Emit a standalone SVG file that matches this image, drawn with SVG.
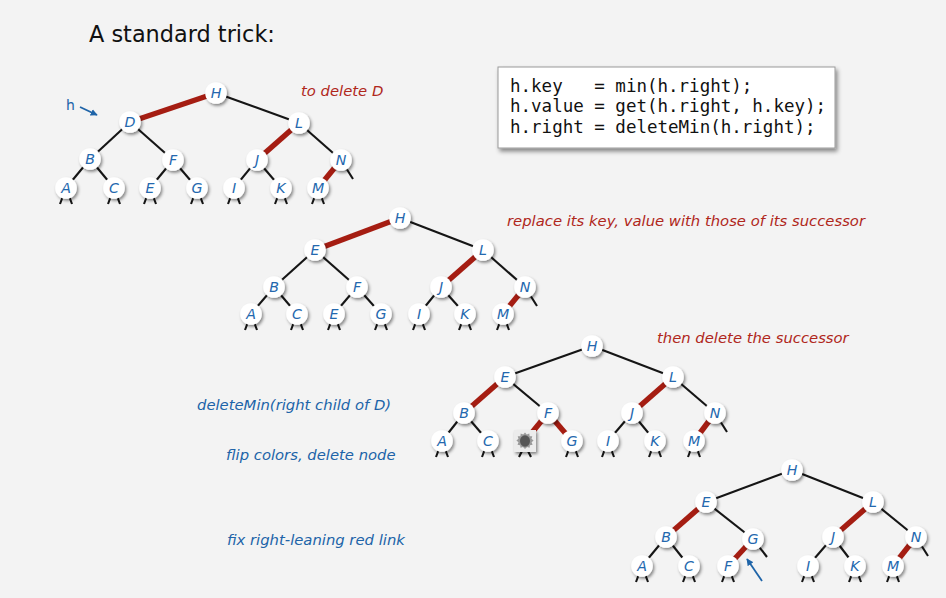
<svg xmlns="http://www.w3.org/2000/svg" width="946" height="598" viewBox="0 0 946 598">
<defs>
<style>
.bg{fill:#f3f3f3}
.node circle{fill:#fff;filter:url(#sh)}
.node text{font-family:"DejaVu Sans",sans-serif;font-style:italic;font-size:14.2px;fill:#2468ae;text-anchor:middle}
.e{stroke:#151515;stroke-width:2.1;fill:none}
.r{stroke:#a51d12;stroke-width:5.5;fill:none}
.red{font-family:"DejaVu Sans",sans-serif;font-style:italic;font-size:14.8px;fill:#b0271b}
.blue{font-family:"DejaVu Sans",sans-serif;font-style:italic;font-size:14.8px;fill:#2063a8}
.code{font-family:"DejaVu Sans Mono",monospace;font-size:17.5px;fill:#111}
.arr{stroke:#1f64a8;stroke-width:1.8;fill:none;marker-end:url(#ah)}
</style>
<filter id="sh" x="-50%" y="-50%" width="200%" height="200%">
<feDropShadow dx="1.5" dy="2" stdDeviation="1.6" flood-color="#000" flood-opacity="0.45"/>
</filter>
<filter id="bsh" x="-10%" y="-10%" width="120%" height="130%">
<feDropShadow dx="2" dy="3" stdDeviation="2" flood-color="#000" flood-opacity="0.45"/>
</filter>
<filter id="soft" x="-20%" y="-20%" width="140%" height="140%">
<feGaussianBlur stdDeviation="0.5"/>
</filter>
<marker id="ah" viewBox="0 0 10 10" refX="9" refY="5" markerWidth="7" markerHeight="7" orient="auto" markerUnits="userSpaceOnUse">
<path d="M0,0 L10,5 L0,10 z" fill="#1f64a8"/>
</marker>
</defs>
<rect class="bg" x="0" y="0" width="946" height="598"/>

<text x="89" y="42" font-family="DejaVu Sans, sans-serif" font-size="22.4" fill="#111">A standard trick:</text>

<g id="codebox">
<rect x="498" y="67" width="337" height="81" fill="#fff" stroke="#9a9a9a" stroke-width="1" filter="url(#bsh)"/>
<text class="code" x="510" y="91.5" xml:space="preserve">h.key   = min(h.right);</text>
<text class="code" x="510" y="112" xml:space="preserve">h.value = get(h.right, h.key);</text>
<text class="code" x="510" y="132.5" xml:space="preserve">h.right = deleteMin(h.right);</text>
</g>

<g id="labels">
<text class="red" x="301" y="96">to delete D</text>
<text class="red" x="507" y="226">replace its key, value with those of its successor</text>
<text class="red" x="657" y="343">then delete the successor</text>
<text class="blue" x="197" y="410">deleteMin(right child of D)</text>
<text class="blue" x="226" y="460">flip colors, delete node</text>
<text class="blue" x="227" y="545">fix right-leaning red link</text>
<text x="66" y="110" font-family="DejaVu Sans, sans-serif" font-size="14" fill="#2063a8">h</text>
</g>

<g id="connectors">
<!-- tree 1 -->
<line class="r" x1="216" y1="93" x2="130" y2="122"/>
<line class="e" x1="216" y1="93" x2="299" y2="123"/>
<line class="e" x1="130" y1="122" x2="90" y2="159"/>
<line class="e" x1="130" y1="122" x2="173" y2="160"/>
<line class="r" x1="299" y1="123" x2="257" y2="160"/>
<line class="e" x1="299" y1="123" x2="341" y2="160"/>
<line class="e" x1="90" y1="159" x2="66" y2="188"/>
<line class="e" x1="90" y1="159" x2="114" y2="188"/>
<line class="e" x1="173" y1="160" x2="150" y2="188"/>
<line class="e" x1="173" y1="160" x2="197" y2="188"/>
<line class="e" x1="257" y1="160" x2="234" y2="188"/>
<line class="e" x1="257" y1="160" x2="281" y2="188"/>
<line class="r" x1="341" y1="160" x2="318" y2="188"/>
<line class="e" x1="341" y1="160" x2="353" y2="179"/>
<path class="e" d="M63,196 L60,204 M69,196 L72,204 M111,196 L108,204 M117,196 L120,204 M147,196 L144,204 M153,196 L156,204 M194,196 L191,204 M200,196 L203,204 M231,196 L228,204 M237,196 L240,204 M278,196 L275,204 M284,196 L287,204 M315,196 L312,204 M321,196 L324,204"/>
<path class="arr" d="M80,107 L97,115"/>
<!-- tree 2 -->
<line class="r" x1="400" y1="218" x2="315" y2="250"/>
<line class="e" x1="400" y1="218" x2="483" y2="250"/>
<line class="e" x1="315" y1="250" x2="274" y2="287"/>
<line class="e" x1="315" y1="250" x2="357" y2="287"/>
<line class="r" x1="483" y1="250" x2="441" y2="287"/>
<line class="e" x1="483" y1="250" x2="525" y2="287"/>
<line class="e" x1="274" y1="287" x2="251" y2="314"/>
<line class="e" x1="274" y1="287" x2="297" y2="314"/>
<line class="e" x1="357" y1="287" x2="334" y2="314"/>
<line class="e" x1="357" y1="287" x2="381" y2="314"/>
<line class="e" x1="441" y1="287" x2="419" y2="314"/>
<line class="e" x1="441" y1="287" x2="465" y2="314"/>
<line class="r" x1="525" y1="287" x2="503" y2="314"/>
<line class="e" x1="525" y1="287" x2="537" y2="306"/>
<path class="e" d="M248,322 L245,330 M254,322 L257,330 M294,322 L291,330 M300,322 L303,330 M331,322 L328,330 M337,322 L340,330 M378,322 L375,330 M384,322 L387,330 M416,322 L413,330 M422,322 L425,330 M462,322 L459,330 M468,322 L471,330 M500,322 L497,330 M506,322 L509,330"/>
<!-- tree 3 -->
<line class="e" x1="592" y1="346" x2="505" y2="377"/>
<line class="e" x1="592" y1="346" x2="673" y2="377"/>
<line class="r" x1="505" y1="377" x2="464" y2="413"/>
<line class="e" x1="505" y1="377" x2="548" y2="413"/>
<line class="r" x1="673" y1="377" x2="632" y2="413"/>
<line class="e" x1="673" y1="377" x2="715" y2="413"/>
<line class="e" x1="464" y1="413" x2="442" y2="441"/>
<line class="e" x1="464" y1="413" x2="488" y2="441"/>
<line class="r" x1="548" y1="413" x2="525" y2="441"/>
<line class="r" x1="548" y1="413" x2="572" y2="441"/>
<line class="e" x1="632" y1="413" x2="608" y2="441"/>
<line class="e" x1="632" y1="413" x2="655" y2="441"/>
<line class="r" x1="715" y1="413" x2="694" y2="441"/>
<line class="e" x1="715" y1="413" x2="727" y2="432"/>
<path class="e" d="M439,449 L436,457 M445,449 L448,457 M485,449 L482,457 M491,449 L494,457 M522,451 L519,457 M528,451 L531,457 M569,449 L566,457 M575,449 L578,457 M605,449 L602,457 M611,449 L614,457 M652,449 L649,457 M658,449 L661,457 M691,449 L688,457 M697,449 L700,457"/>
<!-- tree 4 -->
<line class="e" x1="792" y1="470" x2="706" y2="502"/>
<line class="e" x1="792" y1="470" x2="873" y2="502"/>
<line class="r" x1="706" y1="502" x2="666" y2="537"/>
<line class="e" x1="706" y1="502" x2="753" y2="539"/>
<line class="r" x1="873" y1="502" x2="833" y2="537"/>
<line class="e" x1="873" y1="502" x2="916" y2="537"/>
<line class="e" x1="666" y1="537" x2="642" y2="566"/>
<line class="e" x1="666" y1="537" x2="689" y2="566"/>
<line class="r" x1="753" y1="539" x2="728" y2="566"/>
<line class="e" x1="753" y1="539" x2="767" y2="557"/>
<line class="e" x1="833" y1="537" x2="808" y2="566"/>
<line class="e" x1="833" y1="537" x2="855" y2="566"/>
<line class="r" x1="916" y1="537" x2="893" y2="566"/>
<line class="e" x1="916" y1="537" x2="928" y2="556"/>
<path class="e" d="M639,574 L636,582 M645,574 L648,582 M686,574 L683,582 M692,574 L695,582 M725,574 L722,582 M731,574 L734,582 M805,574 L802,582 M811,574 L814,582 M852,574 L849,582 M858,574 L861,582 M890,574 L887,582 M896,574 L899,582"/>
<path class="arr" d="M762,581 L747,559"/>
</g>

<!-- tree 1 nodes -->
<g id="t1-H" class="node"><circle cx="216" cy="93" r="10.8"/><text x="216" y="98">H</text></g>
<g id="t1-D" class="node"><circle cx="130" cy="122" r="10.8"/><text x="130" y="127">D</text></g>
<g id="t1-L" class="node"><circle cx="299" cy="123" r="10.8"/><text x="299" y="128">L</text></g>
<g id="t1-B" class="node"><circle cx="90" cy="159" r="10.8"/><text x="90" y="164">B</text></g>
<g id="t1-F" class="node"><circle cx="173" cy="160" r="10.8"/><text x="173" y="165">F</text></g>
<g id="t1-J" class="node"><circle cx="257" cy="160" r="10.8"/><text x="257" y="165">J</text></g>
<g id="t1-N" class="node"><circle cx="341" cy="160" r="10.8"/><text x="341" y="165">N</text></g>
<g id="t1-A" class="node"><circle cx="66" cy="188" r="10.8"/><text x="66" y="193">A</text></g>
<g id="t1-C" class="node"><circle cx="114" cy="188" r="10.8"/><text x="114" y="193">C</text></g>
<g id="t1-E" class="node"><circle cx="150" cy="188" r="10.8"/><text x="150" y="193">E</text></g>
<g id="t1-G" class="node"><circle cx="197" cy="188" r="10.8"/><text x="197" y="193">G</text></g>
<g id="t1-I" class="node"><circle cx="234" cy="188" r="10.8"/><text x="234" y="193">I</text></g>
<g id="t1-K" class="node"><circle cx="281" cy="188" r="10.8"/><text x="281" y="193">K</text></g>
<g id="t1-M" class="node"><circle cx="318" cy="188" r="10.8"/><text x="318" y="193">M</text></g>

<!-- tree 2 nodes -->
<g id="t2-H" class="node"><circle cx="400" cy="218" r="10.8"/><text x="400" y="223">H</text></g>
<g id="t2-E" class="node"><circle cx="315" cy="250" r="10.8"/><text x="315" y="255">E</text></g>
<g id="t2-L" class="node"><circle cx="483" cy="250" r="10.8"/><text x="483" y="255">L</text></g>
<g id="t2-B" class="node"><circle cx="274" cy="287" r="10.8"/><text x="274" y="292">B</text></g>
<g id="t2-F" class="node"><circle cx="357" cy="287" r="10.8"/><text x="357" y="292">F</text></g>
<g id="t2-J" class="node"><circle cx="441" cy="287" r="10.8"/><text x="441" y="292">J</text></g>
<g id="t2-N" class="node"><circle cx="525" cy="287" r="10.8"/><text x="525" y="292">N</text></g>
<g id="t2-A" class="node"><circle cx="251" cy="314" r="10.8"/><text x="251" y="319">A</text></g>
<g id="t2-C" class="node"><circle cx="297" cy="314" r="10.8"/><text x="297" y="319">C</text></g>
<g id="t2-E2" class="node"><circle cx="334" cy="314" r="10.8"/><text x="334" y="319">E</text></g>
<g id="t2-G" class="node"><circle cx="381" cy="314" r="10.8"/><text x="381" y="319">G</text></g>
<g id="t2-I" class="node"><circle cx="419" cy="314" r="10.8"/><text x="419" y="319">I</text></g>
<g id="t2-K" class="node"><circle cx="465" cy="314" r="10.8"/><text x="465" y="319">K</text></g>
<g id="t2-M" class="node"><circle cx="503" cy="314" r="10.8"/><text x="503" y="319">M</text></g>

<!-- tree 3 nodes -->
<g id="t3-H" class="node"><circle cx="592" cy="346" r="10.8"/><text x="592" y="351">H</text></g>
<g id="t3-E" class="node"><circle cx="505" cy="377" r="10.8"/><text x="505" y="382">E</text></g>
<g id="t3-L" class="node"><circle cx="673" cy="377" r="10.8"/><text x="673" y="382">L</text></g>
<g id="t3-B" class="node"><circle cx="464" cy="413" r="10.8"/><text x="464" y="418">B</text></g>
<g id="t3-F" class="node"><circle cx="548" cy="413" r="10.8"/><text x="548" y="418">F</text></g>
<g id="t3-J" class="node"><circle cx="632" cy="413" r="10.8"/><text x="632" y="418">J</text></g>
<g id="t3-N" class="node"><circle cx="715" cy="413" r="10.8"/><text x="715" y="418">N</text></g>
<g id="t3-A" class="node"><circle cx="442" cy="441" r="10.8"/><text x="442" y="446">A</text></g>
<g id="t3-C" class="node"><circle cx="488" cy="441" r="10.8"/><text x="488" y="446">C</text></g>
<g id="t3-deleted">
<rect x="514" y="430" width="22" height="22" fill="#ececec" filter="url(#sh)"/>
<polygon points="525,432.5 526.8,434.6 529.3,433.6 529.6,436.2 532.3,436.3 531.5,438.8 533.6,440.4 531.6,442.2 532.6,444.7 529.9,445.2 529.6,447.8 527.1,447 525,449 523,447 520.5,447.8 520.2,445.2 517.5,444.7 518.5,442.2 516.4,440.4 518.5,438.8 517.7,436.3 520.4,436.2 520.7,433.6 523.2,434.6" fill="#9a9a9a" filter="url(#soft)"/>
<ellipse cx="525" cy="441" rx="5" ry="5.8" fill="#555"/>
</g>
<g id="t3-G" class="node"><circle cx="572" cy="441" r="10.8"/><text x="572" y="446">G</text></g>
<g id="t3-I" class="node"><circle cx="608" cy="441" r="10.8"/><text x="608" y="446">I</text></g>
<g id="t3-K" class="node"><circle cx="655" cy="441" r="10.8"/><text x="655" y="446">K</text></g>
<g id="t3-M" class="node"><circle cx="694" cy="441" r="10.8"/><text x="694" y="446">M</text></g>

<!-- tree 4 nodes -->
<g id="t4-H" class="node"><circle cx="792" cy="470" r="10.8"/><text x="792" y="475">H</text></g>
<g id="t4-E" class="node"><circle cx="706" cy="502" r="10.8"/><text x="706" y="507">E</text></g>
<g id="t4-L" class="node"><circle cx="873" cy="502" r="10.8"/><text x="873" y="507">L</text></g>
<g id="t4-B" class="node"><circle cx="666" cy="537" r="10.8"/><text x="666" y="542">B</text></g>
<g id="t4-G" class="node"><circle cx="753" cy="539" r="10.8"/><text x="753" y="544">G</text></g>
<g id="t4-J" class="node"><circle cx="833" cy="537" r="10.8"/><text x="833" y="542">J</text></g>
<g id="t4-N" class="node"><circle cx="916" cy="537" r="10.8"/><text x="916" y="542">N</text></g>
<g id="t4-A" class="node"><circle cx="642" cy="566" r="10.8"/><text x="642" y="571">A</text></g>
<g id="t4-C" class="node"><circle cx="689" cy="566" r="10.8"/><text x="689" y="571">C</text></g>
<g id="t4-F" class="node"><circle cx="728" cy="566" r="10.8"/><text x="728" y="571">F</text></g>
<g id="t4-I" class="node"><circle cx="808" cy="566" r="10.8"/><text x="808" y="571">I</text></g>
<g id="t4-K" class="node"><circle cx="855" cy="566" r="10.8"/><text x="855" y="571">K</text></g>
<g id="t4-M" class="node"><circle cx="893" cy="566" r="10.8"/><text x="893" y="571">M</text></g>
</svg>
